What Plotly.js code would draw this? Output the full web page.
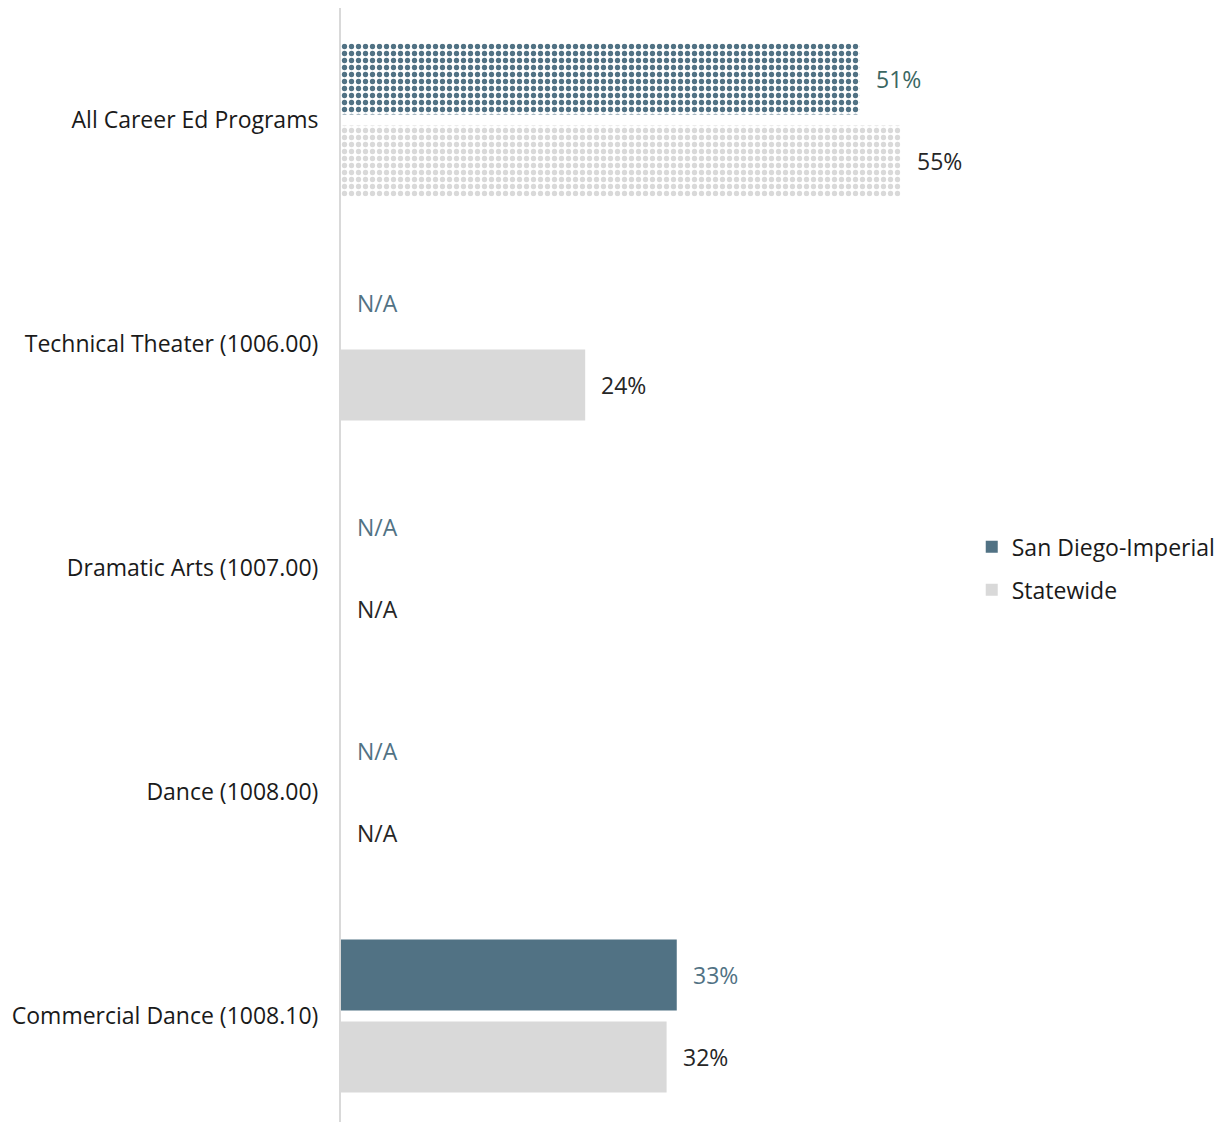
<!DOCTYPE html>
<html>
<head>
<meta charset="utf-8">
<script src="https://cdn.plot.ly/plotly-3.0.1.min.js"></script>
<style>html,body{margin:0;padding:0;background:#fff;}#chart{width:1229px;height:1122px;}</style>
</head>
<body>
<div id="chart"></div>
<script>
const categories = ["All Career Ed Programs", "Technical Theater (1006.00)", "Dramatic Arts (1007.00)", "Dance (1008.00)", "Commercial Dance (1008.10)"];
const sanDiegoValues = [51, null, null, null, 33];
const statewideValues = [55, 24, null, null, 32];
const seriesNames = ["San Diego-Imperial", "Statewide"];

const FONT = "'Open Sans', Lato, sans-serif";
const FS = 23;
const SLATE = "#517284";
const GRAY = "#D9D9D9";

function patternShapes(vals) { return vals.map((v, i) => i === 0 ? "." : ""); }

const traces = [
  {
    type: "bar", orientation: "h", name: seriesNames[0], y: categories, x: sanDiegoValues,
    marker: { color: SLATE, pattern: { shape: patternShapes(sanDiegoValues), fgcolor: SLATE, bgcolor: "#ffffff", fgopacity: 1, size: 7, solidity: 0.45, fillmode: "replace" } },
    showlegend: false, hoverinfo: "skip"
  },
  {
    type: "bar", orientation: "h", name: seriesNames[1], y: categories, x: statewideValues,
    marker: { color: GRAY, pattern: { shape: patternShapes(statewideValues), fgcolor: GRAY, bgcolor: "#ffffff", fgopacity: 1, size: 7, solidity: 0.45, fillmode: "replace" } },
    showlegend: false, hoverinfo: "skip"
  },
  { type: "bar", orientation: "h", name: seriesNames[0], y: [0], x: [null], xaxis: "x2", yaxis: "y2", marker: { color: SLATE }, showlegend: true, legendgroup: "a" },
  { type: "bar", orientation: "h", name: seriesNames[1], y: [0], x: [null], xaxis: "x2", yaxis: "y2", marker: { color: GRAY }, showlegend: true, legendgroup: "b" }
];

const annotations = [];
function addLabels(vals, shift, colorFn) {
  vals.forEach((v, i) => {
    annotations.push({
      x: v == null ? 0 : v, y: categories[i], xref: "x", yref: "y",
      text: v == null ? "N/A" : v + "%",
      showarrow: false, xanchor: "left", yanchor: "middle",
      xshift: 14, yshift: shift,
      font: { family: FONT, size: FS, color: colorFn(v, i) }
    });
  });
}
addLabels(sanDiegoValues, 41, (v, i) => i === 0 ? "#3B6762" : SLATE);
addLabels(statewideValues, -41, () => "#262626");

const layout = {
  width: 1229, height: 1122,
  margin: { l: 341, r: 247, t: 8, b: 0, pad: 0 },
  paper_bgcolor: "#ffffff", plot_bgcolor: "#ffffff",
  barmode: "group", bargap: 0.268, bargroupgap: 0.134,
  font: { family: FONT, size: FS, color: "#1a1a1a" },
  xaxis: { range: [0, 63], showgrid: false, zeroline: false, showticklabels: false, showline: false, ticks: "" },
  yaxis: {
    type: "category", range: [4.473, -0.5], showgrid: false, zeroline: false,
    showline: true, linecolor: "#D9D9D9", linewidth: 2, ticks: "", ticklabelstandoff: 16,
    tickfont: { family: FONT, size: FS, color: "#1a1a1a" }
  },
  xaxis2: { overlaying: "x", visible: false, range: [0, 1] },
  yaxis2: { overlaying: "y", visible: false, range: [0, 1] },
  legend: {
    x: 0.984, xanchor: "left", y: 0.497, yanchor: "middle",
    font: { family: FONT, size: FS, color: "#1a1a1a" }, bgcolor: "rgba(0,0,0,0)", tracegroupgap: 10
  },
  annotations: annotations,
  showlegend: true
};

Plotly.newPlot("chart", traces, layout, { displayModeBar: false, staticPlot: true });
</script>
</body>
</html>
